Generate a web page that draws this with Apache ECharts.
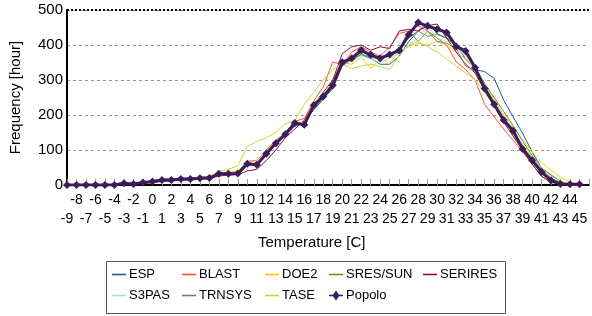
<!DOCTYPE html>
<html>
<head>
<meta charset="utf-8">
<script src="https://cdn.jsdelivr.net/npm/echarts@6/dist/echarts.min.js"></script>
<style>
  html, body { margin: 0; padding: 0; background: #fff; }
  #main { width: 592px; height: 316px; }
</style>
</head>
<body>
<div id="main"></div>
<script>
// temperature bins -9 .. 45
const temps = []
for (let t = -9; t <= 45; t++) temps.push(t)

const ESP = [0,0,0,0,0,0,3,4,6,9,12,14,15,16,18,22,28,30,30,55,60,92,118,140,168,180,215,245,275,340,360,372,362,345,345,368,410,440,465,432,420,400,360,330,324,305,243,195,148,95,48,29,10,2,0]
const BLAST = [0,0,0,0,0,0,4,4,8,11,14,15,18,20,22,25,34,35,38,68,70,100,128,150,182,190,240,280,352,343,380,395,380,368,395,433,440,455,440,420,400,352,330,300,230,195,160,128,95,60,25,8,2,0,0]
const DOE2 = [0,0,0,0,0,0,3,3,7,10,14,15,18,18,20,24,34,36,40,62,70,98,125,150,175,182,220,250,300,350,345,365,333,360,350,380,395,405,400,410,400,380,360,330,290,245,200,165,130,95,65,42,22,8,2]
const SRES = [0,0,0,0,0,0,4,3,6,9,13,14,16,17,18,20,30,31,32,58,58,88,115,140,170,175,220,245,278,345,355,375,365,360,368,385,420,440,425,430,420,395,375,335,290,250,210,170,125,85,45,20,6,2,0]
const SERIRES = [0,0,0,0,0,0,2,2,4,7,10,12,14,15,17,18,26,28,30,40,45,70,100,135,160,185,230,265,300,375,395,400,385,395,390,440,445,440,455,460,420,380,345,320,270,225,180,140,100,60,25,8,2,0,0]
const S3PAS = [0,0,0,0,0,0,4,3,7,10,14,15,17,18,20,22,33,34,36,66,65,95,125,150,180,178,235,258,290,348,355,370,360,350,362,378,400,420,455,420,410,390,370,330,285,240,195,160,115,80,40,15,4,1,0]
const TRNSYS = [0,0,0,0,0,0,4,3,6,10,13,14,16,17,19,21,31,32,34,60,60,90,120,148,175,176,225,250,282,345,360,380,370,365,375,390,440,410,440,410,405,390,340,325,280,235,190,150,110,72,35,12,3,1,0]
const TASE = [0,0,0,0,0,0,5,4,8,12,16,17,19,20,22,25,38,45,55,110,124,135,150,175,185,230,265,300,330,345,333,340,345,338,330,370,400,410,395,380,360,340,320,300,265,225,185,150,115,80,50,25,10,3,0]
const Popolo = [0,0,0,0,0,0,5,3,7,10,14,14,17,17,19,20,32,32,33,61,58,89,119,145,177,172,228,253,285,351,362,385,372,362,373,384,429,464,454,445,436,396,383,335,276,231,186,155,103,71,37,13,3,2,2]

const names = ['ESP', 'BLAST', 'DOE2', 'SRES/SUN', 'SERIRES', 'S3PAS', 'TRNSYS', 'TASE', 'Popolo']
const values = [ESP, BLAST, DOE2, SRES, SERIRES, S3PAS, TRNSYS, TASE, Popolo]
const colors = ['#1f5a9e', '#ff5522', '#ffcc00', '#55a022', '#8c1038', '#a8d8f0', '#7d7d58', '#c4d83a', '#3b1d5c']
const yTicks = [0, 100, 200, 300, 400, 500]

const font = 'Liberation Sans, Arial, sans-serif'
const lineIcon = 'path://M0,0 H14 V1.6 H0 Z'
const diamondIcon = 'path://M0,4.2 H4 L7,0 L10,4.2 H14 V5.8 H10 L7,10 L4,5.8 H0 Z'

let myChart = echarts.init(document.getElementById('main'))

let series = names.map((name, i) => {
  let s = {
    name: name,
    type: 'line',
    data: temps.map((t, k) => [t, values[i][k]]),
    symbol: 'none',
    lineStyle: { color: colors[i], width: 1 },
    itemStyle: { color: colors[i] },
    z: 2,
    animation: false
  }
  if (name === 'Popolo') {
    s.symbol = 'diamond'
    s.symbolSize = 8
    s.lineStyle = { color: colors[i], width: 3 }
    s.z = 5
  }
  return s
})
// black dotted top border
series[0].markLine = {
  silent: true,
  symbol: 'none',
  label: { show: false },
  lineStyle: { color: '#000', type: [2, 2], width: 2 },
  data: [{ yAxis: 500 }]
}

// one legend per column so the entries line up as in the original
const cols = [[0, 5], [1, 6], [2, 7], [3, 8], [4]]
const colLeft = [112, 182, 265, 329, 423]
let legends = cols.map((c, i) => ({
  orient: 'vertical',
  left: colLeft[i],
  top: 268,
  padding: 0,
  itemWidth: 14,
  itemHeight: 10,
  itemGap: 8,
  symbolKeepAspect: true,
  data: c.map(k => ({ name: names[k], icon: names[k] === 'Popolo' ? diamondIcon : lineIcon })),
  itemStyle: { borderWidth: 0 },
  lineStyle: { width: 0 },
  textStyle: { fontFamily: font, fontSize: 13, color: '#000', padding: [0, 0, 0, -2] }
}))

// two label rows: even temperatures on top, odd ones below
const baseX = {
  type: 'value',
  min: -9,
  max: 46,
  interval: 1,
  position: 'bottom',
  splitLine: { show: false }
}

let options = {
  animation: false,
  grid: { left: 66, right: -2, top: 10, bottom: 131 },
  xAxis: [
    Object.assign({}, baseX, {
      axisLine: { lineStyle: { color: '#000', width: 2 } },
      axisTick: { inside: true, length: 6, lineStyle: { color: '#999' } },
      axisLabel: {
        margin: 8,
        showMinLabel: true,
        hideOverlap: false,
        fontFamily: font,
        fontSize: 14,
        color: '#000',
        formatter: v => (v > 45 || Math.abs(v) % 2 === 1) ? '' : '' + v
      }
    }),
    Object.assign({}, baseX, {
      axisLine: { show: false },
      axisTick: { show: false },
      axisLabel: {
        margin: 27,
        showMinLabel: true,
        hideOverlap: false,
        fontFamily: font,
        fontSize: 14,
        color: '#000',
        formatter: v => (v > 45 || Math.abs(v) % 2 === 0) ? '' : '' + v
      }
    })
  ],
  yAxis: {
    type: 'value',
    min: yTicks[0],
    max: yTicks[yTicks.length - 1],
    interval: 100,
    name: 'Frequency [hour]',
    nameLocation: 'middle',
    nameGap: 44,
    nameTextStyle: { fontFamily: font, fontSize: 15, color: '#000' },
    axisLine: { show: true, onZero: false, lineStyle: { color: '#000', width: 2 } },
    axisTick: { show: false },
    axisLabel: { margin: 4, fontFamily: font, fontSize: 15, color: '#000' },
    splitLine: { lineStyle: { color: '#999', type: [3, 3] } }
  },
  legend: legends,
  graphic: [
    {
      type: 'text',
      left: 258,
      top: 235,
      style: { text: 'Temperature [C]', fontFamily: font, fontSize: 15, fill: '#000' }
    },
    {
      type: 'rect',
      shape: { x: 106.5, y: 261.5, width: 399, height: 52 },
      style: { fill: 'none', stroke: '#555', lineWidth: 1 },
      z: -1
    }
  ],
  series: series
}
myChart.setOption(options)
</script>
</body>
</html>
